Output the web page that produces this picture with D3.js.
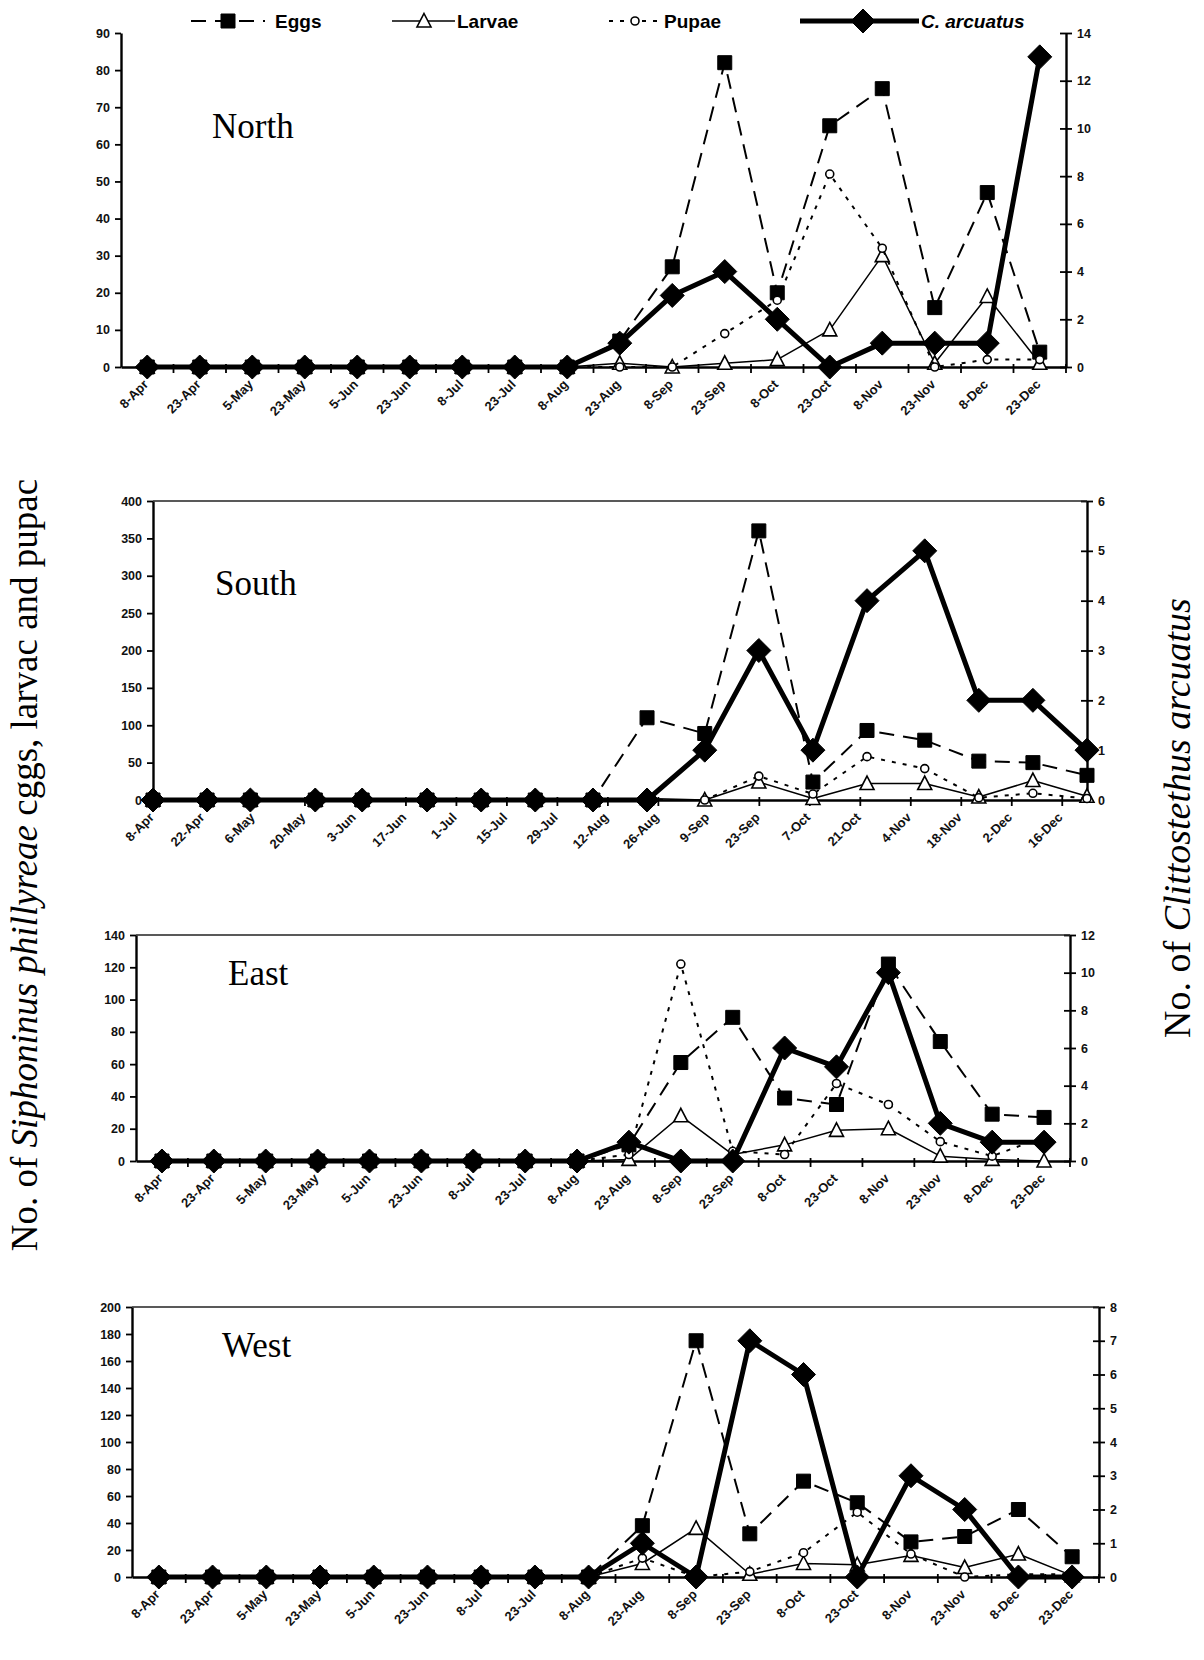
<!DOCTYPE html>
<html>
<head>
<meta charset="utf-8">
<script src="https://cdn.jsdelivr.net/npm/d3@7/dist/d3.min.js"></script>
<style>
  body { margin: 0; background: #fff; }
  svg { display: block; }
</style>
</head>
<body>
<div id="chart"></div>
<script>
// sampling dates (category labels for North / East / West, point dates for South)
const sampleDates = ["8-Apr","23-Apr","5-May","23-May","5-Jun","23-Jun","8-Jul","23-Jul","8-Aug",
  "23-Aug","8-Sep","23-Sep","8-Oct","23-Oct","8-Nov","23-Nov","8-Dec","23-Dec"]
// South uses a date axis, ticks every 14 days
const southTickLabels = ["8-Apr","22-Apr","6-May","20-May","3-Jun","17-Jun","1-Jul","15-Jul","29-Jul",
  "12-Aug","26-Aug","9-Sep","23-Sep","7-Oct","21-Oct","4-Nov","18-Nov","2-Dec","16-Dec"]

const northEggs   = [0,0,0,0,0,0,0,0,0, 7, 27, 82, 20, 65, 75, 16, 47, 4]
const northLarvae = [0,0,0,0,0,0,0,0,0, 1, 0, 1, 2, 10, 30, 1, 19, 1]
const northPupae  = [0,0,0,0,0,0,0,0,0, 0, 0, 9, 18, 52, 32, 0, 2, 2]
const northArc    = [0,0,0,0,0,0,0,0,0, 1, 3, 4, 2, 0, 1, 1, 1, 13]

const southEggs   = [0,0,0,0,0,0,0,0,0, 110, 89, 360, 24, 93, 80, 52, 50, 33]
const southLarvae = [0,0,0,0,0,0,0,0,0, 2, 0, 24, 2, 22, 22, 4, 26, 5]
const southPupae  = [0,0,0,0,0,0,0,0,0, 0, 0, 32, 8, 58, 42, 3, 9, 2]
const southArc    = [0,0,0,0,0,0,0,0,0, 0, 1, 3, 1, 4, 5, 2, 2, 1]

const eastEggs    = [0,0,0,0,0,0,0,0,0, 10, 61, 89, 39, 35, 122, 74, 29, 27]
const eastLarvae  = [0,0,0,0,0,0,0,0,0, 1, 28, 4, 10, 19, 20, 3, 1, 0]
const eastPupae   = [0,0,0,0,0,0,0,0,0, 4, 122, 6, 4, 48, 35, 12, 3, 15]
const eastArc     = [0,0,0,0,0,0,0,0,0, 1, 0, 0, 6, 5, 10, 2, 1, 1]

const westEggs    = [0,0,0,0,0,0,0,0,0, 38, 175, 32, 71, 55, 26, 30, 50, 15]
const westLarvae  = [0,0,0,0,0,0,0,0,0, 10, 36, 2, 10, 9, 16, 7, 17, 1]
const westPupae   = [0,0,0,0,0,0,0,0,0, 14, 0, 4, 18, 48, 17, 0, 2, 2]
const westArc     = [0,0,0,0,0,0,0,0,0, 1, 0, 7, 6, 0, 3, 2, 0, 0]

const legendNames = ["Eggs", "Larvae", "Pupae", "C. arcuatus"]

const W = 1204, H = 1660
const TICK_FONT = "'Liberation Sans', Arial, sans-serif"
const SERIF = "'Liberation Serif', 'Times New Roman', serif"

const parseDay = d3.timeParse("%d-%b-%Y")
const asDate = s => parseDay(s + "-2001")

// panel layout (pixels)
const panels = [
  { name: "North", eggs: northEggs, larvae: northLarvae, pupae: northPupae, arc: northArc,
    leftMax: 90, leftStep: 10, rightMax: 14, rightStep: 2,
    x0: 121, x1: 1066, yBottom: 367, yTop: 33, title: [212, 138], topLine: false, dateAxis: false },
  { name: "South", eggs: southEggs, larvae: southLarvae, pupae: southPupae, arc: southArc,
    leftMax: 400, leftStep: 50, rightMax: 6, rightStep: 1,
    x0: 153, x1: 1087, yBottom: 800, yTop: 501, title: [215, 595], topLine: true, dateAxis: true },
  { name: "East", eggs: eastEggs, larvae: eastLarvae, pupae: eastPupae, arc: eastArc,
    leftMax: 140, leftStep: 20, rightMax: 12, rightStep: 2,
    x0: 136, x1: 1070, yBottom: 1161, yTop: 935, title: [228, 985], topLine: true, dateAxis: false },
  { name: "West", eggs: westEggs, larvae: westLarvae, pupae: westPupae, arc: westArc,
    leftMax: 200, leftStep: 20, rightMax: 8, rightStep: 1,
    x0: 132, x1: 1099, yBottom: 1577, yTop: 1307, title: [222, 1357], topLine: true, dateAxis: false },
]

const STYLE = {
  eggs:   { dash: "15,9", width: 2,   marker: "square"   },
  larvae: { dash: null,   width: 1.5, marker: "triangle" },
  pupae:  { dash: "4,7",  width: 2,   marker: "circle"   },
  arc:    { dash: null,   width: 5,   marker: "diamond"  },
}

function markerPath(type) {
  if (type === "square") return "M-7,-7H7V7H-7Z"
  if (type === "triangle") return "M0,-7.5L7,6L-7,6Z"
  if (type === "diamond") return "M0,-12L12,0L0,12L-12,0Z"
  return null
}

function drawMarker(g, type, x, y) {
  if (type === "circle") {
    g.append("circle").attr("cx", x).attr("cy", y).attr("r", 4)
      .attr("fill", "#fff").attr("stroke", "#000").attr("stroke-width", 1.6)
    return
  }
  g.append("path").attr("d", markerPath(type)).attr("transform", `translate(${x},${y})`)
    .attr("fill", type === "triangle" ? "#fff" : "#000")
    .attr("stroke", "#000").attr("stroke-width", type === "triangle" ? 1.6 : 1)
}

const svg = d3.select("#chart").append("svg")
  .attr("width", W).attr("height", H)
  .style("background", "#fff")

function styleTicks(sel, size) {
  sel.selectAll("text")
    .attr("font-family", TICK_FONT).attr("font-weight", "bold")
    .attr("font-size", size || 12.5).attr("fill", "#111")
  sel.selectAll("line").attr("stroke", "#000").attr("stroke-width", 1.8)
  sel.select(".domain").attr("stroke", "#000").attr("stroke-width", 2.4)
}

function rotateLabels(ax) {
  ax.selectAll("text")
    .attr("x", 0).attr("y", 0).attr("dy", "0.35em")
    .attr("transform", "translate(-2,15) rotate(-45)")
    .style("text-anchor", "end")
}

panels.forEach(p => {
  const g = svg.append("g")
  const y = d3.scaleLinear().domain([0, p.leftMax]).range([p.yBottom, p.yTop])
  const y2 = d3.scaleLinear().domain([0, p.rightMax]).range([p.yBottom, p.yTop])

  let xPos
  if (p.dateAxis) {
    const xt = d3.scaleTime()
      .domain([asDate(sampleDates[0]), asDate(sampleDates[sampleDates.length - 1])])
      .range([p.x0, p.x1])
    xPos = i => xt(asDate(sampleDates[i]))
    const ax = g.append("g").attr("transform", `translate(0,${p.yBottom})`)
      .call(d3.axisBottom(xt)
        .tickValues(southTickLabels.map(asDate))
        .tickFormat((d, i) => southTickLabels[i])
        .tickSize(6).tickSizeOuter(0))
    ax.selectAll(".tick line").attr("y1", -3)
    styleTicks(ax, 13)
    rotateLabels(ax)
  } else {
    const xp = d3.scalePoint().domain(sampleDates).range([p.x0, p.x1]).padding(0.5)
    const xb = d3.scaleBand().domain(sampleDates).range([p.x0, p.x1])
    xPos = i => xp(sampleDates[i])
    const ax = g.append("g").attr("transform", `translate(0,${p.yBottom})`)
      .call(d3.axisBottom(xp).tickSize(0).tickSizeOuter(0))
    styleTicks(ax, 13)
    rotateLabels(ax)
    // category boundary ticks
    ax.selectAll(".btick")
      .data(sampleDates.map(d => xb(d)).concat([p.x1]).slice(1))
      .join("line")
      .attr("class", "btick")
      .attr("x1", d => d).attr("x2", d => d)
      .attr("y1", -3).attr("y2", 6)
      .attr("stroke", "#000").attr("stroke-width", 1.8)
  }

  // left axis
  const yl = g.append("g").attr("transform", `translate(${p.x0},0)`)
    .call(d3.axisLeft(y).tickValues(d3.range(0, p.leftMax + 0.001, p.leftStep))
      .tickSize(6).tickSizeOuter(0).tickPadding(5))
  styleTicks(yl)

  // right axis
  const yr = g.append("g").attr("transform", `translate(${p.x1},0)`)
    .call(d3.axisRight(y2).tickValues(d3.range(0, p.rightMax + 0.001, p.rightStep))
      .tickFormat(d3.format("d"))
      .tickSize(6).tickSizeOuter(0).tickPadding(5))
  yr.selectAll(".tick line").attr("x1", -6)
  styleTicks(yr)

  if (p.topLine) {
    g.append("line").attr("x1", p.x0).attr("x2", p.x1)
      .attr("y1", p.yTop).attr("y2", p.yTop)
      .attr("stroke", "#222").attr("stroke-width", 1.6)
  }

  // panel label
  g.append("text").attr("x", p.title[0]).attr("y", p.title[1])
    .attr("font-family", SERIF).attr("font-size", 35).attr("fill", "#000")
    .text(p.name)

  // series
  ;["eggs", "larvae", "pupae", "arc"].forEach(key => {
    const st = STYLE[key]
    const sc = key === "arc" ? y2 : y
    const vals = p[key]
    const line = d3.line().x((d, i) => xPos(i)).y(d => sc(d))
    g.append("path").datum(vals).attr("d", line)
      .attr("fill", "none").attr("stroke", "#000")
      .attr("stroke-width", st.width)
      .attr("stroke-dasharray", st.dash)
      .attr("stroke-linejoin", "round")
    const mg = g.append("g")
    vals.forEach((v, i) => drawMarker(mg, st.marker, xPos(i), sc(v)))
  })
})

// legend
const legend = svg.append("g")
const legItems = [
  { key: "eggs",   x0: 191, x1: 265, mx: 228, tx: 275 },
  { key: "larvae", x0: 392, x1: 455, mx: 424, tx: 457 },
  { key: "pupae",  x0: 609, x1: 662, mx: 635, tx: 664 },
  { key: "arc",    x0: 800, x1: 919, mx: 863, tx: 921 },
]
legItems.forEach((it, i) => {
  const st = STYLE[it.key]
  const ly = 21
  legend.append("line").attr("x1", it.x0).attr("x2", it.x1).attr("y1", ly).attr("y2", ly)
    .attr("stroke", "#000").attr("stroke-width", st.width)
    .attr("stroke-dasharray", st.dash)
  drawMarker(legend, st.marker, it.mx, ly)
  legend.append("text").attr("x", it.tx).attr("y", ly + 7)
    .attr("font-family", TICK_FONT).attr("font-weight", "bold").attr("font-size", 19)
    .attr("font-style", it.key === "arc" ? "italic" : "normal")
    .text(legendNames[i])
})

// axis titles
const lt = svg.append("text")
  .attr("transform", "translate(37,865) rotate(-90)")
  .attr("text-anchor", "middle")
  .attr("font-family", SERIF).attr("font-size", 37).attr("fill", "#000")
lt.append("tspan").text("No. of ")
lt.append("tspan").attr("font-style", "italic").text("Siphoninus phillyreae")
lt.append("tspan").text(" cggs, larvac and pupac")

const rt = svg.append("text")
  .attr("transform", "translate(1190,818) rotate(-90)")
  .attr("text-anchor", "middle")
  .attr("font-family", SERIF).attr("font-size", 38).attr("fill", "#000")
rt.append("tspan").text("No. of ")
rt.append("tspan").attr("font-style", "italic").text("Clittostethus arcuatus")
</script>
</body>
</html>
